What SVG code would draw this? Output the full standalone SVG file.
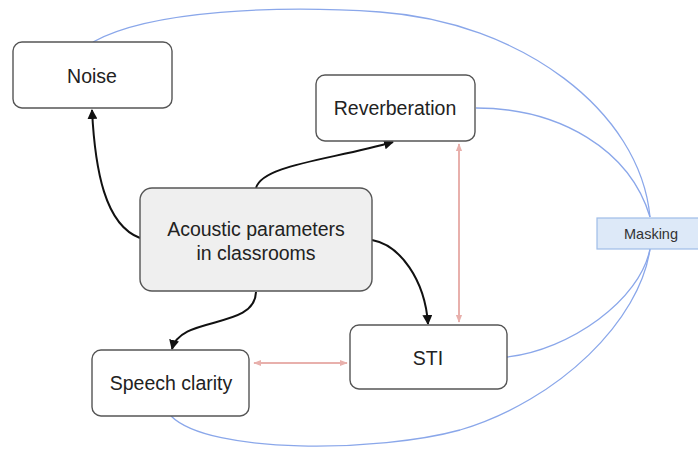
<svg xmlns="http://www.w3.org/2000/svg" width="698" height="450" viewBox="0 0 698 450">
<defs>
<marker id="blk" viewBox="0 0 10 10" refX="9" refY="5" markerWidth="10" markerHeight="10" markerUnits="userSpaceOnUse" orient="auto">
<path d="M0,0 L10,5 L0,10 z" fill="#111"/>
</marker>
<marker id="pk" viewBox="0 0 10 10" refX="9" refY="5" markerWidth="8" markerHeight="8" markerUnits="userSpaceOnUse" orient="auto-start-reverse">
<path d="M0,1 L10,5 L0,9 z" fill="#e8b0ac"/>
</marker>
<style>
.box{fill:#fff;stroke:#555;stroke-width:1.4}
.t{font-family:"Liberation Sans",Arial,sans-serif;font-size:19.5px;fill:#222;text-anchor:middle}
.b{fill:none;stroke:#8aa7ea;stroke-width:1.3}
.k{fill:none;stroke:#111;stroke-width:2}
.p{fill:none;stroke:#e8b0ac;stroke-width:2}
</style>
</defs>
<rect width="698" height="450" fill="#fff"/>
<g id="connectors">
<path class="b" d="M93,42 C150,10 280,5 380,12 C520,22 640,110 650,217"/>
<path class="b" d="M476,108 C560,108 630,150 650,217"/>
<path class="b" d="M507,357 C570,350 640,300 650,249"/>
<path class="b" d="M171,416 C210,455 380,452 460,430 C560,400 640,320 650,249"/>
<path class="k" d="M140,238 C105,225 95,170 92,110" marker-end="url(#blk)"/>
<path class="k" d="M256,188 C262,165 330,160 393,142" marker-end="url(#blk)"/>
<path class="k" d="M372,240 C400,245 425,280 428,324" marker-end="url(#blk)"/>
<path class="k" d="M256,292 C255,330 180,315 172,349" marker-end="url(#blk)"/>
<path class="p" d="M459,144 L459,322" marker-start="url(#pk)" marker-end="url(#pk)"/>
<path class="p" d="M254,363 L347,363" marker-start="url(#pk)" marker-end="url(#pk)"/>
</g>
<g id="noise"><rect class="box" x="13" y="42" width="159" height="66" rx="9"/><text class="t" x="92" y="83">Noise</text></g>
<g id="reverberation"><rect class="box" x="316" y="75" width="159" height="66" rx="9"/><text class="t" x="395" y="115">Reverberation</text></g>
<g id="acoustic"><rect x="140" y="188" width="232" height="103" rx="12" fill="#efefef" stroke="#555" stroke-width="1.4"/><text class="t" x="256" y="236">Acoustic parameters</text><text class="t" x="256" y="260">in classrooms</text></g>
<g id="speech"><rect class="box" x="92" y="350" width="157" height="66" rx="9"/><text class="t" x="171" y="390">Speech clarity</text></g>
<g id="sti"><rect class="box" x="350" y="325" width="157" height="64" rx="9"/><text class="t" x="428" y="365">STI</text></g>
<g id="masking"><rect x="597" y="218" width="104" height="31" fill="#dde9f8" stroke="#9fbde8" stroke-width="1.2"/><text x="651" y="239" font-family="'Liberation Sans',Arial,sans-serif" font-size="14.5" fill="#333" text-anchor="middle">Masking</text></g>
</svg>
